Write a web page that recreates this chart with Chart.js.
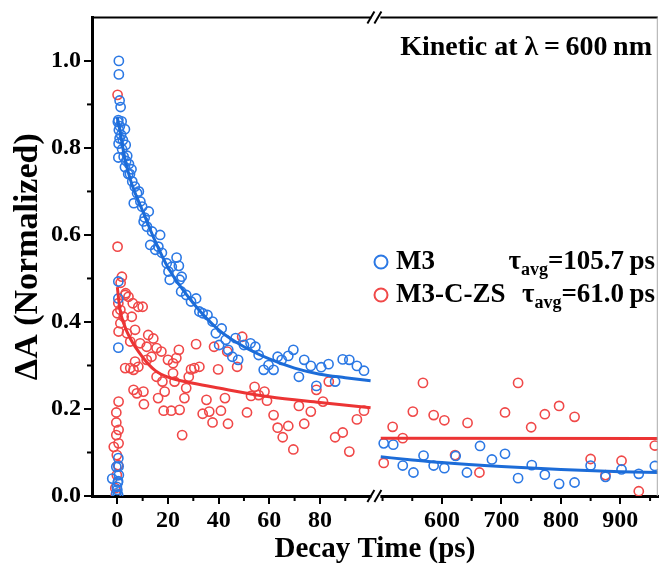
<!DOCTYPE html>
<html>
<head>
<meta charset="utf-8">
<script src="https://cdn.jsdelivr.net/npm/chart.js@4"></script>
<style>
  html, body { margin: 0; padding: 0; background: #fff; }
</style>
</head>
<body>
<canvas id="myChart" width="664" height="567"></canvas>
<script>
// Tick labels
const yTicks = [0, 0.2, 0.4, 0.6, 0.8, 1.0];
const xLeftTicks = [0, 20, 40, 60, 80];
const xRightTicks = [600, 700, 800, 900];

// M3 (blue) - early part, time in ps
const m3LeftT = [-2.0, 0.4, -0.4, 0.6, 0.3, -0.2, -0.4, 0.2, 0.0, 0.3, 0.5,
  0.4, 0.4, 0.4,
  0.6, 0.6, 0.9, 1.3, 0.4, 1.7, 3.0, 0.6, 0.9, 2.2, 3.3, 1.9, 0.4, 3.9, 4.6, 3.0, 5.6, 4.3, 5.9, 6.9, 7.8, 6.5,
  9.1, 9.8, 12.4, 10.4, 11.7, 13.7, 16.9, 13.0, 15.0, 16.2, 17.6, 23.4, 19.5, 21.5, 24.3, 20.2, 25.4,
  0.2, 1.0, 0.5, 1.5, 2.5, 3.5, 5.0, 8.5, 10.8,
  20.7, 24.6, 25.2, 27.2, 29.1, 31.1, 32.4, 33.7, 35.6, 37.6, 38.9, 41.2, 40.2, 42.8, 43.8, 45.4, 47.7, 46.7,
  50.0, 52.6, 54.5, 55.8, 57.8, 59.7, 61.7, 63.3, 64.9, 67.5, 69.5, 71.7, 73.8, 76.4, 78.6, 80.5, 83.4, 86.0,
  89.0, 91.6, 94.6, 97.4];
const m3LeftA = [0.040, 0.087, 0.067, 0.048, 0.034, 0.021, 0.006, 0.031, 0.014, 0.003, 0.068,
  0.493, 0.454, 0.341,
  1.000, 0.969, 0.909, 0.894, 0.864, 0.861, 0.843, 0.841, 0.822, 0.818, 0.807, 0.797, 0.778, 0.782, 0.763, 0.756, 0.751, 0.740, 0.723, 0.711, 0.696, 0.673,
  0.677, 0.665, 0.654, 0.631, 0.619, 0.608, 0.600, 0.577, 0.566, 0.573, 0.559, 0.548, 0.535, 0.527, 0.529, 0.516, 0.504,
  0.860, 0.850, 0.810, 0.830, 0.780, 0.770, 0.740, 0.700, 0.640,
  0.497, 0.497, 0.470, 0.462, 0.447, 0.454, 0.424, 0.420, 0.416, 0.401, 0.374, 0.385, 0.347, 0.359, 0.336, 0.320, 0.313, 0.363,
  0.347, 0.351, 0.343, 0.324, 0.290, 0.301, 0.290, 0.320, 0.313, 0.322, 0.336, 0.274, 0.313, 0.299, 0.253, 0.296, 0.303, 0.263,
  0.314, 0.313, 0.299, 0.288];

// M3 (blue) - late part
const m3RightT = [502, 518, 534, 552, 569, 586, 604, 623, 642, 664, 684, 706, 728, 751, 773, 797, 823, 850, 875, 902, 931, 958];
const m3RightA = [0.121, 0.118, 0.070, 0.054, 0.093, 0.070, 0.064, 0.092, 0.054, 0.115, 0.084, 0.097, 0.041, 0.071, 0.049, 0.028, 0.031, 0.070, 0.044, 0.061, 0.051, 0.069];

// M3-C-ZS (red) - early part
const czsLeftT = [0.5, -0.4, -0.4, 0.5, -0.4, 0.5, -1.4, -0.2, 0.3, -0.2, -0.8, -0.6,
  0.1, 0.1, 1.8, 1.3, 3.3, 0.4, 0.0,
  3.1, 4.4, 6.1, 8.3, 10.0, 1.2, 2.5, 5.7, 0.5, 3.8, 1.2, 7.0, 5.1, 9.0, 11.6, 12.2, 14.2, 15.5, 17.4, 20.0, 22.0,
  24.3, 23.3, 13.5, 11.6, 7.0, 5.1, 3.1, 6.4, 8.3, 15.5, 17.8, 22.0, 18.7, 22.6, 27.2, 28.2, 29.1, 31.1, 32.4, 30.4,
  39.8, 38.2, 43.4, 47.3, 49.3, 6.4, 7.7, 10.3, 10.5, 16.1, 18.3, 21.3, 24.6, 25.6, 26.5, 33.7, 35.2, 36.3, 37.6,
  40.9, 42.5, 43.7, 51.2, 54.2, 52.8, 55.8, 58.1, 59.1, 61.7, 63.3, 65.3, 67.5, 69.5, 71.7, 73.8, 76.4, 78.6, 81.2,
  83.5, 86.0, 89.0, 91.6, 94.6, 97.4];
const czsLeftA = [0.217, 0.192, 0.169, 0.152, 0.140, 0.121, 0.113, 0.094, 0.071, 0.048, 0.018, 0.003,
  0.922, 0.573, 0.504, 0.490, 0.466, 0.443, 0.420,
  0.462, 0.458, 0.443, 0.435, 0.435, 0.428, 0.412, 0.412, 0.378, 0.374, 0.397, 0.382, 0.355, 0.351, 0.343, 0.370, 0.362, 0.340, 0.332, 0.313, 0.305,
  0.336, 0.317, 0.320, 0.313, 0.309, 0.294, 0.294, 0.290, 0.297, 0.274, 0.263, 0.282, 0.240, 0.263, 0.248, 0.274, 0.291, 0.349, 0.297, 0.294,
  0.291, 0.343, 0.332, 0.297, 0.366, 0.244, 0.236, 0.240, 0.211, 0.225, 0.196, 0.196, 0.198, 0.140, 0.225, 0.189, 0.221, 0.194, 0.169,
  0.196, 0.225, 0.166, 0.192, 0.251, 0.230, 0.232, 0.240, 0.219, 0.186, 0.157, 0.135, 0.161, 0.107, 0.207, 0.166, 0.194, 0.244, 0.217,
  0.263, 0.135, 0.146, 0.102, 0.176, 0.196];

// M3-C-ZS (red) - late part
const czsRightT = [502, 517, 534, 551, 568, 586, 604, 622, 643, 663, 706, 728, 750, 773, 797, 823, 850, 875, 902, 931, 958];
const czsRightA = [0.076, 0.159, 0.133, 0.194, 0.260, 0.186, 0.174, 0.094, 0.168, 0.054, 0.192, 0.260, 0.158, 0.188, 0.207, 0.182, 0.085, 0.048, 0.081, 0.011, 0.116];

// Fitted curves
const m3FitLeftT = [0, 1, 2.5, 5, 10, 15, 20, 30, 40, 50, 60, 70, 80, 90, 100];
const m3FitLeftA = [0.87, 0.84, 0.79, 0.73, 0.655, 0.585, 0.525, 0.443, 0.382, 0.343, 0.315, 0.294, 0.28, 0.272, 0.265];
const m3FitRightT = [497, 550, 600, 700, 800, 900, 963];
const m3FitRightA = [0.090, 0.083, 0.077, 0.068, 0.061, 0.056, 0.054];
const czsFitLeftT = [0, 1, 2.5, 5, 10, 15, 20, 30, 40, 60, 80, 100];
const czsFitLeftA = [0.48, 0.43, 0.397, 0.363, 0.319, 0.288, 0.273, 0.259, 0.248, 0.228, 0.215, 0.203];
const czsFitRightT = [497, 963];
const czsFitRightA = [0.133, 0.132];

const BLUE = '#2b78e4';
const BLUE_LINE = '#1c6cd8';
const RED = '#f04848';
const RED_LINE = '#ec3434';
const FONT = "'Liberation Serif', 'Times New Roman', serif";

const toPts = (xs, ys) => xs.map((x, i) => ({ x: x, y: ys[i] }));

function scatterSet(label, xs, ys, color, axis, order) {
  return {
    label: label,
    data: toPts(xs, ys),
    xAxisID: axis,
    showLine: false,
    pointStyle: 'circle',
    pointRadius: 4.6,
    pointBorderWidth: 1.6,
    pointBackgroundColor: 'rgba(255,255,255,0)',
    pointBorderColor: color,
    order: order
  };
}

function fitSet(label, xs, ys, color, axis) {
  return {
    label: label,
    data: toPts(xs, ys),
    xAxisID: axis,
    showLine: true,
    pointRadius: 0,
    borderColor: color,
    borderWidth: 3,
    cubicInterpolationMode: 'monotone',
    order: 0
  };
}

// minor ticks, frame, axis break, legend and notes
const decorPlugin = {
  id: 'decor',
  afterDraw(chart) {
    const ctx = chart.ctx;
    const a = chart.chartArea;
    const s = chart.scales;
    const line = (x1, y1, x2, y2) => { ctx.beginPath(); ctx.moveTo(x1, y1); ctx.lineTo(x2, y2); ctx.stroke(); };
    ctx.save();

    // minor ticks
    ctx.strokeStyle = '#000';
    ctx.lineWidth = 2;
    [0.1, 0.3, 0.5, 0.7, 0.9].forEach(v => { const p = s.y.getPixelForValue(v); line(a.left - 5, p, a.left, p); });
    [10, 30, 50, 70, 90].forEach(v => { const p = s.xL.getPixelForValue(v); line(p, a.bottom, p, a.bottom + 5); });
    [500, 550, 650, 750, 850, 950].forEach(v => { const p = s.xR.getPixelForValue(v); line(p, a.bottom, p, a.bottom + 5); });

    // top and right frame
    ctx.lineWidth = 2;
    line(a.left, a.top, a.right, a.top);
    ctx.strokeStyle = '#aaa';
    ctx.lineWidth = 1;
    line(a.right - 0.5, a.top, a.right - 0.5, a.bottom);

    // axis break
    const bx = s.xL.right;
    ctx.fillStyle = '#fff';
    ctx.fillRect(bx - 4, a.bottom - 3, 9, 7);
    ctx.fillRect(bx - 4, a.top - 2, 9, 4);
    ctx.strokeStyle = '#000';
    ctx.lineWidth = 2;
    [a.top, a.bottom].forEach(yy => {
      line(bx - 8, yy + 6, bx - 1, yy - 6);
      line(bx - 1, yy + 6, bx + 6, yy - 6);
    });

    // x title
    ctx.fillStyle = '#000';
    ctx.font = 'bold 29px ' + FONT;
    ctx.textAlign = 'center';
    ctx.textBaseline = 'middle';
    ctx.fillText('Decay Time (ps)', (a.left + a.right) / 2, 550);

    // note
    ctx.font = 'bold 28px ' + FONT;
    ctx.textAlign = 'right';
    ctx.fillText('Kinetic at \u03bb\u2009=\u2009600\u2009nm', 652, 48);

    // legend
    const rows = [
      { name: 'M3', tau: '105.7', color: BLUE, y: 262 },
      { name: 'M3-C-ZS', tau: '61.0', color: RED, y: 295 }
    ];
    rows.forEach(r => {
      ctx.strokeStyle = r.color;
      ctx.lineWidth = 2;
      ctx.beginPath();
      ctx.arc(381, r.y, 6.5, 0, Math.PI * 2);
      ctx.stroke();
      ctx.fillStyle = '#000';
      ctx.textAlign = 'left';
      ctx.font = 'bold 27px ' + FONT;
      ctx.fillText(r.name, 396, r.y);
      const big = 'bold 27px ' + FONT;
      const small = 'bold 18px ' + FONT;
      const p1 = '\u03c4', p2 = 'avg', p3 = '=' + r.tau + '\u2009ps';
      ctx.font = big; const w1 = ctx.measureText(p1).width; const w3 = ctx.measureText(p3).width;
      ctx.font = small; const w2 = ctx.measureText(p2).width;
      let x = 655 - (w1 + w2 + w3);
      ctx.font = big; ctx.fillText(p1, x, r.y); x += w1;
      ctx.font = small; ctx.fillText(p2, x, r.y + 8); x += w2;
      ctx.font = big; ctx.fillText(p3, x, r.y);
    });
    ctx.restore();
  }
};

const tickFont = { family: FONT, size: 24, weight: 'bold' };

const config = {
  type: 'scatter',
  data: {
    datasets: [
      fitSet('M3 fit', m3FitLeftT, m3FitLeftA, BLUE_LINE, 'xL'),
      fitSet('M3 fit', m3FitRightT, m3FitRightA, BLUE_LINE, 'xR'),
      fitSet('M3-C-ZS fit', czsFitLeftT, czsFitLeftA, RED_LINE, 'xL'),
      fitSet('M3-C-ZS fit', czsFitRightT, czsFitRightA, RED_LINE, 'xR'),
      scatterSet('M3', m3LeftT, m3LeftA, BLUE, 'xL', 1),
      scatterSet('M3', m3RightT, m3RightA, BLUE, 'xR', 1),
      scatterSet('M3-C-ZS', czsLeftT, czsLeftA, RED, 'xL', 2),
      scatterSet('M3-C-ZS', czsRightT, czsRightA, RED, 'xR', 2)
    ]
  },
  options: {
    responsive: false,
    animation: false,
    layout: { padding: { top: 17, right: 1, left: 0, bottom: 0 } },
    plugins: { legend: { display: false }, tooltip: { enabled: false } },
    scales: {
      y: {
        type: 'linear',
        position: 'left',
        min: 0,
        max: 1.1,
        afterBuildTicks: (axis) => { axis.ticks = yTicks.map(v => ({ value: v })); },
        afterFit: (axis) => { axis.width = 92; },
        ticks: { font: tickFont, color: '#000', padding: 3, callback: (v) => v.toFixed(1) },
        grid: { drawOnChartArea: false, drawTicks: true, tickLength: 8, color: '#000', lineWidth: 2 },
        border: { display: true, color: '#000', width: 3 },
        title: { display: true, text: '\u0394A (Normalized)', color: '#000', font: { family: FONT, size: 34, weight: 'bold' }, padding: { top: 8, bottom: 0 } }
      },
      xL: {
        type: 'linear',
        position: 'bottom',
        stack: 'x',
        stackWeight: 286,
        min: -10,
        max: 101.9,
        afterBuildTicks: (axis) => { axis.ticks = xLeftTicks.map(v => ({ value: v })); },
        afterFit: (axis) => { axis.height = 71; },
        ticks: { font: tickFont, color: '#000', padding: 2, maxRotation: 0, autoSkip: false },
        grid: { drawOnChartArea: false, drawTicks: true, tickLength: 8, color: '#000', lineWidth: 2 },
        border: { display: true, color: '#000', width: 3 }
      },
      xR: {
        type: 'linear',
        position: 'bottom',
        stack: 'x',
        stackWeight: 285,
        min: 488,
        max: 963,
        afterBuildTicks: (axis) => { axis.ticks = xRightTicks.map(v => ({ value: v })); },
        afterFit: (axis) => { axis.height = 71; },
        ticks: { font: tickFont, color: '#000', padding: 2, maxRotation: 0, autoSkip: false },
        grid: { drawOnChartArea: false, drawTicks: true, tickLength: 8, color: '#000', lineWidth: 2 },
        border: { display: true, color: '#000', width: 3 }
      }
    }
  },
  plugins: [decorPlugin]
};

const myChart = new Chart(document.getElementById('myChart').getContext('2d'), config);
</script>
</body>
</html>
